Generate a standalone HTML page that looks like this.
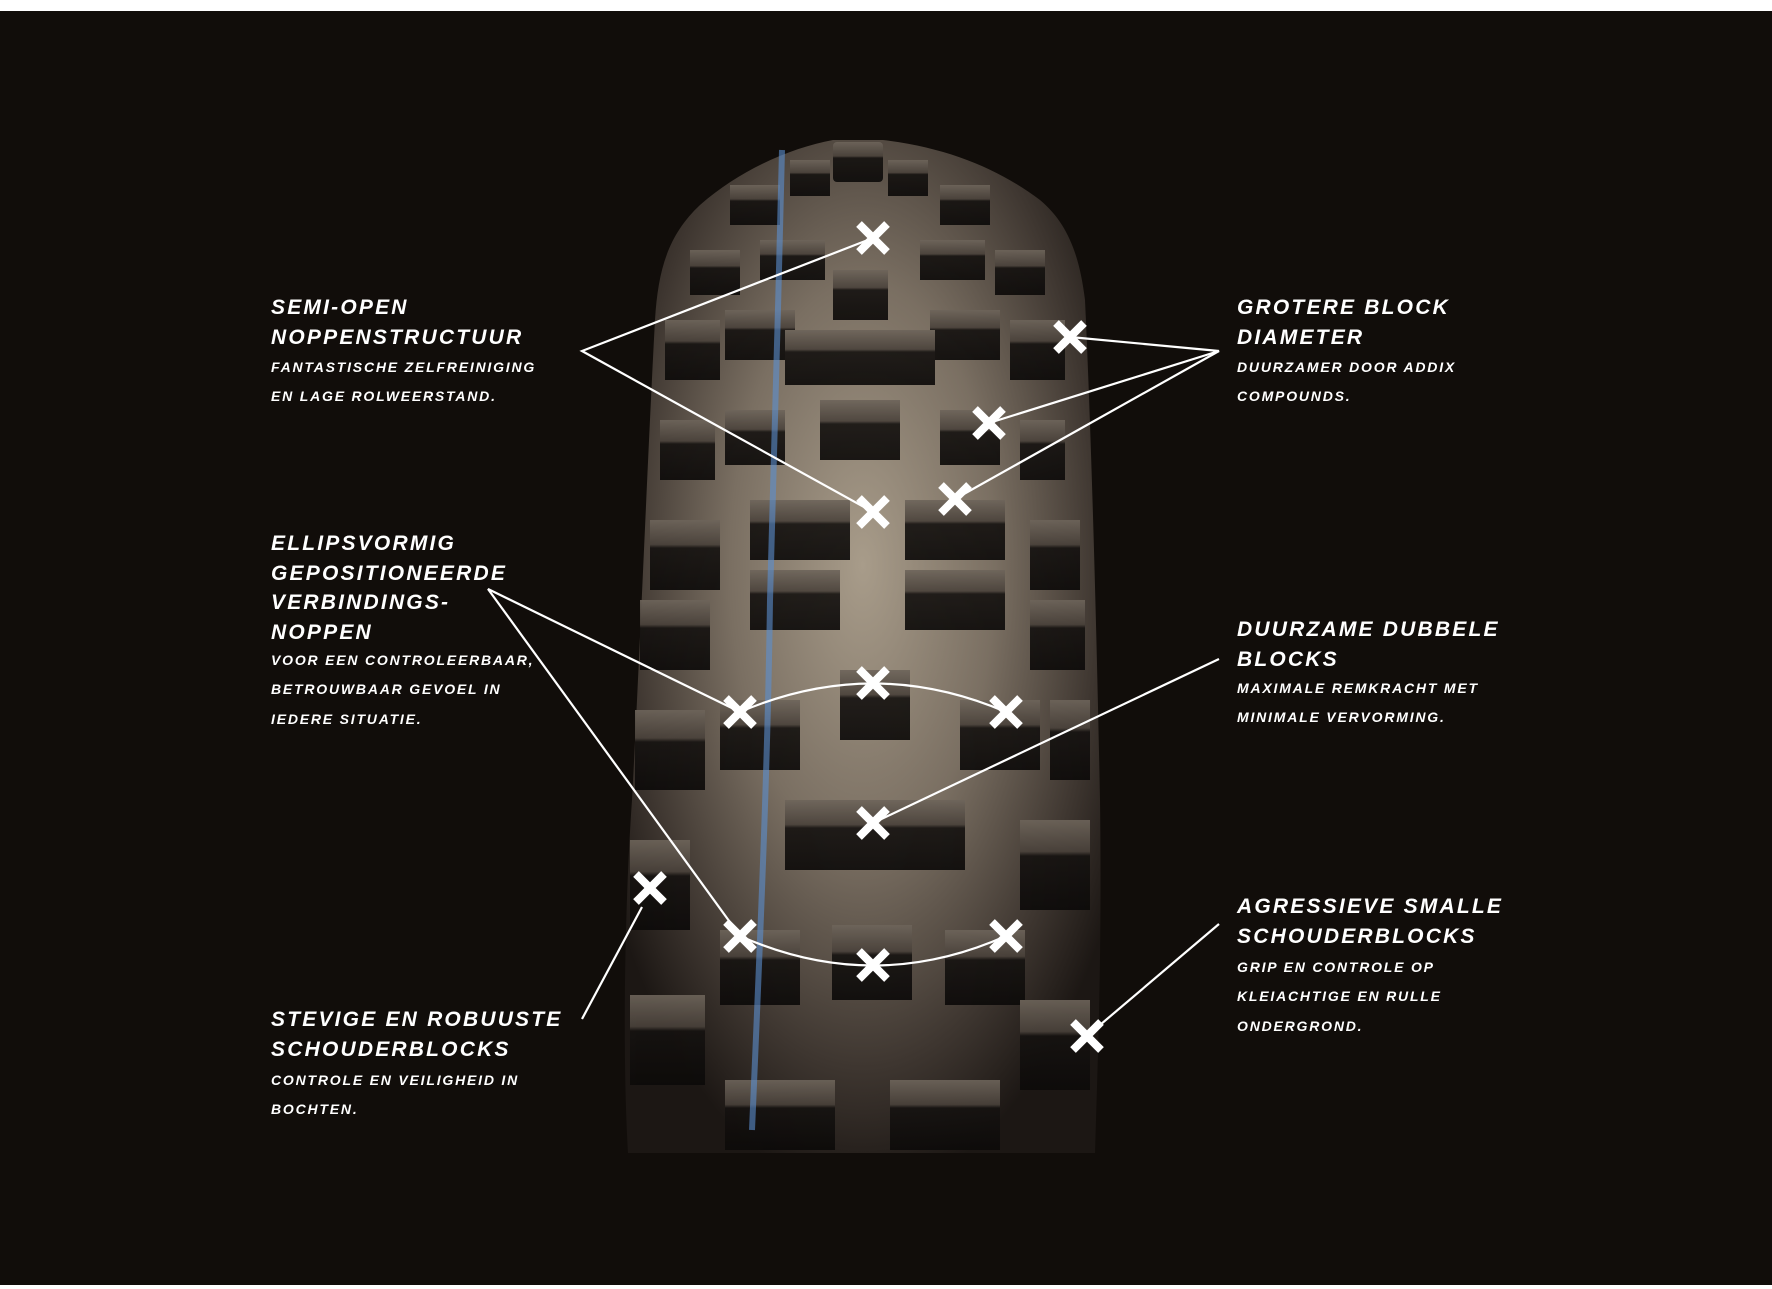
<!DOCTYPE html>
<html><head><meta charset="utf-8">
<style>
html,body{margin:0;padding:0;background:#fff;}
#c{position:relative;width:1772px;height:1289px;overflow:hidden;background:#fff;}
#bg{position:absolute;left:0;top:11px;width:1772px;height:1274px;background:#110d0a;}
svg{position:absolute;left:0;top:0;}
.t{position:absolute;color:#fff;font-family:"Liberation Sans",sans-serif;font-weight:bold;font-style:italic;white-space:nowrap;}
.h{font-size:21px;line-height:29.5px;letter-spacing:2.2px;}
.s{font-size:14px;line-height:29.3px;letter-spacing:1.8px;}
</style></head><body><div id="c">
<div id="bg"></div>
<svg width="1772" height="1289" viewBox="0 0 1772 1289">
<defs>
<radialGradient id="tg" cx="0.5" cy="0.42" r="0.62">
<stop offset="0" stop-color="#a89c8a"/>
<stop offset="0.45" stop-color="#7a6f62"/>
<stop offset="0.8" stop-color="#3e3630"/>
<stop offset="1" stop-color="#1c1714"/>
</radialGradient>
<linearGradient id="bk" x1="0" y1="0" x2="0" y2="1">
<stop offset="0" stop-color="#6e655b"/>
<stop offset="0.35" stop-color="#4a423b"/>
<stop offset="0.4" stop-color="#151210"/>
<stop offset="1" stop-color="#0c0a09"/>
</linearGradient>
</defs>
<path d="M833,140 L883,140 C950,148 1000,170 1040,200 C1070,225 1080,260 1085,300 C1092,450 1097,650 1100,800 C1102,950 1098,1050 1095,1153 L628,1153 C622,1050 625,900 632,800 C640,650 648,450 655,320 C658,270 668,235 700,205 C740,170 790,148 833,140 Z" fill="url(#tg)"/>
<g fill="url(#bk)" opacity="0.9">
<rect x="833" y="142" width="50" height="40" rx="4"/>
<rect x="790" y="160" width="40" height="36"/><rect x="888" y="160" width="40" height="36"/>
<rect x="730" y="185" width="50" height="40"/><rect x="940" y="185" width="50" height="40"/>
<rect x="760" y="240" width="65" height="40"/><rect x="920" y="240" width="65" height="40"/>
<rect x="690" y="250" width="50" height="45"/><rect x="995" y="250" width="50" height="45"/>
<rect x="833" y="270" width="55" height="50"/>
<rect x="725" y="310" width="70" height="50"/><rect x="930" y="310" width="70" height="50"/>
<rect x="665" y="320" width="55" height="60"/><rect x="1010" y="320" width="55" height="60"/>
<rect x="785" y="330" width="150" height="55"/>
<rect x="820" y="400" width="80" height="60"/>
<rect x="725" y="410" width="60" height="55"/><rect x="940" y="410" width="60" height="55"/>
<rect x="660" y="420" width="55" height="60"/><rect x="1020" y="420" width="45" height="60"/>
<rect x="750" y="500" width="100" height="60"/><rect x="905" y="500" width="100" height="60"/>
<rect x="650" y="520" width="70" height="70"/><rect x="1030" y="520" width="50" height="70"/>
<rect x="750" y="570" width="90" height="60"/><rect x="905" y="570" width="100" height="60"/>
<rect x="640" y="600" width="70" height="70"/><rect x="1030" y="600" width="55" height="70"/>
<rect x="840" y="670" width="70" height="70"/>
<rect x="720" y="700" width="80" height="70"/><rect x="960" y="700" width="80" height="70"/>
<rect x="635" y="710" width="70" height="80"/><rect x="1050" y="700" width="40" height="80"/>
<rect x="785" y="800" width="180" height="70"/>
<rect x="630" y="840" width="60" height="90"/><rect x="1020" y="820" width="70" height="90"/>
<rect x="720" y="930" width="80" height="75"/><rect x="832" y="925" width="80" height="75"/><rect x="945" y="930" width="80" height="75"/>
<rect x="630" y="995" width="75" height="90"/><rect x="1020" y="1000" width="70" height="90"/>
<rect x="725" y="1080" width="110" height="70"/><rect x="890" y="1080" width="110" height="70"/>
</g>
<path d="M782,150 C778,300 775,450 770,600 C768,750 762,900 752,1130" stroke="#5c90d0" stroke-width="6" fill="none" opacity="0.6"/>
<g stroke="#fff" stroke-width="2.2" fill="none">
<polyline points="873,238 582,351 873,512"/>
<polyline points="1070,337 1219,351 989,423"/>
<polyline points="1219,351 955,499"/>
<polyline points="740,712 488,589 740,936"/>
<line x1="1219" y1="659" x2="873" y2="823"/>
<line x1="582" y1="1019" x2="642" y2="907"/>
<line x1="1219" y1="924" x2="1087" y2="1036"/>
<path d="M740,712 Q873,655 1006,712"/>
<path d="M740,936 Q873,995 1006,936"/>
</g>
<g stroke="#fff" stroke-width="8" stroke-linecap="butt">
<path d="M859,224 l28,28 M887,224 l-28,28"/>
<path d="M1056,323 l28,28 M1084,323 l-28,28"/>
<path d="M975,409 l28,28 M1003,409 l-28,28"/>
<path d="M859,498 l28,28 M887,498 l-28,28"/>
<path d="M941,485 l28,28 M969,485 l-28,28"/>
<path d="M726,698 l28,28 M754,698 l-28,28"/>
<path d="M859,669 l28,28 M887,669 l-28,28"/>
<path d="M992,698 l28,28 M1020,698 l-28,28"/>
<path d="M859,809 l28,28 M887,809 l-28,28"/>
<path d="M636,874 l28,28 M664,874 l-28,28"/>
<path d="M726,922 l28,28 M754,922 l-28,28"/>
<path d="M859,951 l28,28 M887,951 l-28,28"/>
<path d="M992,922 l28,28 M1020,922 l-28,28"/>
<path d="M1073,1022 l28,28 M1101,1022 l-28,28"/>
</g>
</svg>

<div class="t" style="left:271px;top:293px;"><div class="h">SEMI-OPEN<br>NOPPENSTRUCTUUR</div></div>
<div class="t" style="left:271px;top:353px;"><div class="s">FANTASTISCHE ZELFREINIGING<br>EN LAGE ROLWEERSTAND.</div></div>

<div class="t" style="left:271px;top:529px;"><div class="h">ELLIPSVORMIG<br>GEPOSITIONEERDE<br>VERBINDINGS-<br>NOPPEN</div></div>
<div class="t" style="left:271px;top:646px;"><div class="s">VOOR EEN CONTROLEERBAAR,<br>BETROUWBAAR GEVOEL IN<br>IEDERE SITUATIE.</div></div>

<div class="t" style="left:271px;top:1005px;"><div class="h">STEVIGE EN ROBUUSTE<br>SCHOUDERBLOCKS</div></div>
<div class="t" style="left:271px;top:1066px;"><div class="s">CONTROLE EN VEILIGHEID IN<br>BOCHTEN.</div></div>

<div class="t" style="left:1237px;top:293px;"><div class="h">GROTERE BLOCK<br>DIAMETER</div></div>
<div class="t" style="left:1237px;top:353px;"><div class="s">DUURZAMER DOOR ADDIX<br>COMPOUNDS.</div></div>

<div class="t" style="left:1237px;top:615px;"><div class="h">DUURZAME DUBBELE<br>BLOCKS</div></div>
<div class="t" style="left:1237px;top:674px;"><div class="s">MAXIMALE REMKRACHT MET<br>MINIMALE VERVORMING.</div></div>

<div class="t" style="left:1237px;top:892px;"><div class="h">AGRESSIEVE SMALLE<br>SCHOUDERBLOCKS</div></div>
<div class="t" style="left:1237px;top:953px;"><div class="s">GRIP EN CONTROLE OP<br>KLEIACHTIGE EN RULLE<br>ONDERGROND.</div></div>
</div></body></html>
